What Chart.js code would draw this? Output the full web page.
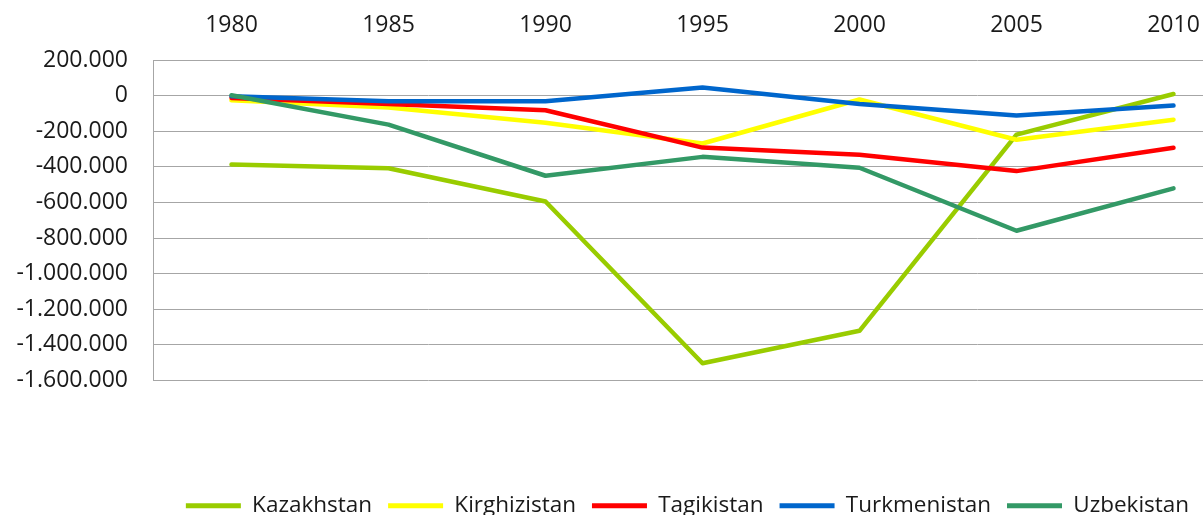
<!DOCTYPE html>
<html>
<head>
<meta charset="utf-8">
<script src="https://cdn.jsdelivr.net/npm/chart.js@4.4.0/dist/chart.umd.min.js"></script>
<style>
body { margin: 0; overflow: hidden; background: #fff; }
#chart { display: block; }
</style>
</head>
<body>
<canvas id="chart" width="1377" height="527"></canvas>
<script>
var years = ['1980', '1985', '1990', '1995', '2000', '2005', '2010'];
var kazakhstan = [-387000, -408000, -595000, -1503000, -1321000, -219000, 9000];
var kirghizistan = [-26000, -67000, -153000, -269000, -22000, -248000, -135000];
var tagikistan = [-13000, -47000, -82000, -292000, -332000, -424000, -293000];
var turkmenistan = [-4000, -32000, -32000, 46000, -47000, -112000, -56000];
var uzbekistan = [2000, -163000, -450000, -344000, -405000, -759000, -521000];

var names = ['Kazakhstan', 'Kirghizistan', 'Tagikistan', 'Turkmenistan', 'Uzbekistan'];
var colors = ['#99cc00', '#ffff00', '#ff0000', '#0066cc', '#339966'];
var seriesList = [kazakhstan, kirghizistan, tagikistan, turkmenistan, uzbekistan];

function formatNumber(v){
    var s = Math.abs(Math.round(v)).toString();
    s = s.replace(/\B(?=(\d{3})+(?!\d))/g, '.');
    return (v < 0 ? '-' : '') + s;
}

var datasets = [];
for (var i = 0; i < seriesList.length; i++){
    datasets.push({
        label: names[i],
        data: seriesList[i],
        borderColor: colors[i],
        backgroundColor: colors[i],
        borderWidth: 4.5,
        borderCapStyle: 'round',
        borderJoinStyle: 'round',
        pointRadius: 0,
        tension: 0,
        // later series drawn on top, like the original
        order: seriesList.length - i
    });
}

var textColor = '#1a1a1a';
var gridColor = '#a6a6a6';

// legend is centred under the whole (wider) chart, not only the plot + axis
var shiftLegend = {
    id: 'shiftLegend',
    afterLayout: function(chart){
        chart.legend.left += 123;
    }
};

new Chart(document.getElementById('chart').getContext('2d'), {
    type: 'line',
    data: {
        labels: years,
        datasets: datasets
    },
    plugins: [shiftLegend],
    options: {
        responsive: false,
        animation: false,
        layout: { padding: { top: 0, left: 0, right: 125, bottom: 0 } },
        plugins: {
            tooltip: { enabled: false },
            legend: {
                position: 'bottom',
                title: { display: true, text: '', padding: { top: 83.6, bottom: 0 }, font: { size: 12 } },
                labels: {
                    font: { family: 'Open Sans', size: 22.5 },
                    color: textColor,
                    boxWidth: 55,
                    boxHeight: 5,
                    padding: 16,
                    generateLabels: function(chart){
                        return chart.data.datasets.map(function(d, idx){
                            return {
                                text: d.label,
                                fillStyle: d.borderColor,
                                strokeStyle: d.borderColor,
                                lineWidth: 0,
                                fontColor: textColor,
                                datasetIndex: idx
                            };
                        });
                    }
                }
            }
        },
        scales: {
            x: {
                position: 'top',
                offset: true,
                afterFit: function(s){ s.height = 60; },
                grid: { display: true, drawOnChartArea: false, drawTicks: true, tickLength: 21, tickColor: 'rgba(0,0,0,0)' },
                border: { display: false },
                ticks: { padding: 0, color: textColor, font: { family: 'Open Sans', size: 23 }, maxRotation: 0 }
            },
            y: {
                min: -1600000,
                max: 200000,
                afterFit: function(s){ s.width = 153; },
                grid: { color: gridColor, lineWidth: 1, drawTicks: false },
                border: { display: true, color: gridColor, width: 1 },
                ticks: {
                    stepSize: 200000,
                    padding: 25,
                    color: textColor,
                    font: { family: 'Open Sans', size: 23 },
                    callback: function(v){ return formatNumber(v); }
                }
            }
        }
    }
});
</script>
</body>
</html>
